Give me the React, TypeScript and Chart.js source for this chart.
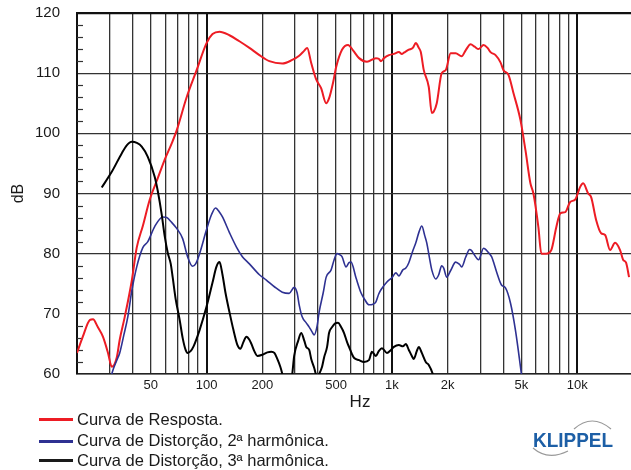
import React, { useEffect, useRef } from 'react';
import { Chart, registerables } from 'chart.js';

Chart.register(...registerables);

const FONT = '"Liberation Sans", Arial, Helvetica, sans-serif';

// ---- Axis ticks ----
const GRID_FREQS = [30, 40, 50, 60, 70, 80, 90, 100, 200, 300, 400, 500, 600, 700, 800, 900, 1000, 2000, 3000, 4000, 5000, 6000, 7000, 8000, 9000, 10000];
const LABELED_FREQS = [50, 100, 200, 500, 1000, 2000, 5000, 10000];
const FREQ_LABELS = ['50', '100', '200', '500', '1k', '2k', '5k', '10k'];
const DECADE_FREQS = [100, 1000, 10000];
const Y_MINOR = [62, 64, 66, 68, 72, 74, 76, 78, 82, 84, 86, 88, 92, 94, 96, 98, 102, 104, 106, 108, 112, 114, 116, 118];

// ---- Curva de Resposta (red) ----
const RED_FREQ = [20, 21.5, 23.5, 24.4, 25.9, 27.6, 29.4, 30.8, 32.8, 34.0, 36.2, 39.5, 42.0, 45.3, 49.4, 54.5, 59.4, 64.8, 69.0, 78.1, 88.4, 100, 107.7, 117.5, 132.9, 150.4, 170.3, 192.8, 218.2, 256.3, 290, 316, 336, 349, 367, 390, 415, 442, 458, 482, 500, 538, 580, 617, 665, 734, 820, 849, 873, 906, 964, 1025, 1091, 1131, 1160, 1234, 1297, 1346, 1397, 1432, 1486, 1581, 1641, 1681, 1746, 1857, 1951, 2075, 2208, 2379, 2500, 2659, 2794, 2937, 3123, 3282, 3406, 3624, 3854, 4001, 4256, 4527, 4939, 5255, 5589, 5801, 6171, 6403, 6812, 7245, 7708, 8099, 8615, 9165, 9750, 10372, 10764, 11452, 11885, 12644, 13452, 14137, 15040, 16000, 17025, 17670, 18340, 19030];
const RED_DB = [63.5, 66.2, 69, 69.1, 67.8, 66.2, 63.5, 61.2, 62.8, 65.7, 69.5, 75.5, 81, 84.6, 89.0, 92.5, 95.6, 98.3, 100.5, 106, 110.5, 115, 116.5, 116.9, 116.3, 115.3, 114.2, 113.0, 112.0, 111.6, 112.2, 112.9, 113.7, 114.2, 111.7, 109, 107.5, 105, 105.8, 108.5, 111, 113.9, 114.7, 113.8, 112.5, 111.9, 112.5, 112.4, 112.0, 112.5, 113, 113.2, 113.5, 113.2, 113.4, 113.9, 114.2, 115, 114.2, 113.5, 110.5, 107.7, 103.4, 103.6, 105, 110, 110.5, 113.3, 113.3, 112.8, 113.8, 114.8, 114.4, 114.0, 114.7, 114.2, 113.5, 113, 111.8, 110.5, 109.7, 106.7, 102.2, 97.2, 91.7, 90, 84.4, 80, 80, 80.6, 84.4, 86.7, 86.9, 88.6, 89, 91.1, 91.7, 90, 89.4, 85.6, 83.4, 83.1, 80.6, 81.8, 80.6, 79, 78.5, 76.1];

// ---- Curva de Distorção, 2ª harmônica (blue) ----
const BLUE_FREQ = [29.4, 30.8, 32.8, 34.0, 35.8, 37.6, 39.5, 42.0, 45.3, 48.2, 52.5, 58.0, 61.0, 64.8, 69.0, 74.3, 79.0, 84.1, 87.3, 91.7, 100, 106.4, 111.8, 117.5, 121.9, 132.9, 145.0, 156.1, 170.3, 192.8, 210.2, 232.2, 256.3, 279, 297, 308, 316, 328, 345, 358, 371, 381, 395, 405, 426, 442, 470, 488, 506, 525, 538, 566, 587, 602, 640, 681, 716, 752, 791, 820, 849, 873, 940, 1000, 1051, 1091, 1146, 1189, 1234, 1297, 1346, 1397, 1450, 1504, 1542, 1601, 1641, 1724, 1789, 1857, 1904, 1975, 2075, 2208, 2320, 2379, 2500, 2627, 2692, 2760, 2937, 3123, 3316, 3450, 3535, 3669, 3902, 4100, 4362, 4640, 4999, 5125];
const BLUE_DB = [57, 60, 62.3, 63.5, 66.5, 69.5, 73.8, 77.8, 81, 82, 84.5, 86.1, 86.0, 85.2, 84.2, 82.5, 79.5, 77.9, 78.3, 80, 84, 86.5, 87.6, 86.9, 86.1, 83.5, 81.1, 79.5, 78.3, 76.5, 75.6, 74.5, 73.6, 73.4, 74.4, 73.5, 71.5, 69.5, 68.5, 67.8, 67.0, 66.5, 68, 70.3, 73.5, 76.1, 77.3, 79, 80, 79.8, 79.5, 77.8, 78.5, 78.6, 76, 73.5, 72.3, 71.5, 71.6, 72, 73.3, 74, 75.3, 76, 76.8, 76.3, 77.3, 77.6, 78.5, 80.5, 81.8, 83.5, 84.6, 83, 81.8, 79, 77.3, 75.8, 76.5, 78, 77.6, 76.1, 77.2, 78.6, 78.2, 77.8, 79.4, 80.7, 80.5, 80, 79, 80.9, 80.2, 79.5, 78.6, 77, 74.8, 74.3, 71.8, 67.3, 60, 57.5];

// ---- Curva de Distorção, 3ª harmônica (black) ----
const BLACK_FREQ = [27.2, 30.8, 34.9, 37.1, 39.5, 42.1, 44.7, 48.2, 52.5, 54.5, 57.3, 59.4, 61.7, 64.1, 65.7, 68.1, 71.6, 74.3, 77.1, 79.0, 82.0, 85.1, 91.7, 100, 107.7, 113, 117.5, 121.9, 126.5, 132.9, 139.7, 146.8, 152.3, 158, 164.1, 170.3, 174.6, 181, 188, 200, 212.8, 223.7, 232.2, 240.8, 250, 256.3, 266, 279, 290, 297, 312, 324, 337, 345, 358, 367, 381, 395, 405, 420, 431, 447, 458, 476, 494, 512, 532, 552, 573, 587, 609, 624, 665, 707, 752, 780, 820, 849, 884, 940, 988, 1025, 1091, 1147, 1189, 1234, 1281, 1313, 1362, 1397, 1450, 1523, 1581, 1662, 1724];
const BLACK_DB = [91, 93.6, 96.7, 98.0, 98.6, 98.4, 97.8, 96.1, 92.8, 90.5, 86.5, 83, 80.2, 78.3, 76, 72.5, 69, 66, 64, 63.5, 63.8, 64.6, 67.3, 71.2, 75.2, 77.8, 78.6, 76.5, 73.5, 70.3, 67.3, 64.8, 64.2, 65.3, 66.2, 65.7, 65.0, 63.8, 63, 63.2, 63.6, 63.7, 63.5, 62.5, 61.2, 60, 57.5, 57.5, 60, 63, 65.5, 66.8, 65.5, 64.5, 64, 62.5, 61, 59.5, 60, 61.2, 62.8, 64.5, 66.8, 67.8, 68.4, 68.5, 67.8, 66.8, 65.3, 64.5, 63.3, 62.7, 62.3, 62, 62.3, 63.7, 63, 63.8, 64.3, 63.5, 64, 64.5, 64.8, 64.6, 65, 64, 63, 62.5, 63.8, 64.5, 63.5, 62, 61.5, 60, 58];

const SERIES_NAMES = ['Curva de Resposta.', 'Curva de Distorção, 2ª harmônica.', 'Curva de Distorção, 3ª harmônica.'];
const SERIES_COLORS = ['#ed1c24', '#2e3192', '#000000'];

const toPoints = (xs: number[], ys: number[]) => xs.map((x, i) => ({ x, y: ys[i] }));

const minorTicksPlugin = {
  id: 'minorTicks',
  beforeDatasetsDraw(chart: any) {
    const { ctx, chartArea, scales } = chart;
    const y = scales.y;
    ctx.save();
    ctx.strokeStyle = '#333';
    ctx.lineWidth = 1.2;
    for (const v of Y_MINOR) {
      const py = Math.round(y.getPixelForValue(v)) + 0.5;
      ctx.beginPath();
      ctx.moveTo(chartArea.left, py);
      ctx.lineTo(chartArea.left + 6, py);
      ctx.stroke();
    }
    ctx.restore();
  },
};

export default function App() {
  const ref = useRef<HTMLCanvasElement>(null);

  useEffect(() => {
    if (!ref.current) return;
    const chart = new Chart(ref.current, {
      type: 'line',
      data: {
        datasets: [
          { label: SERIES_NAMES[0], data: toPoints(RED_FREQ, RED_DB), borderColor: SERIES_COLORS[0], borderWidth: 2, order: 3 },
          { label: SERIES_NAMES[1], data: toPoints(BLUE_FREQ, BLUE_DB), borderColor: SERIES_COLORS[1], borderWidth: 1.6, order: 2 },
          { label: SERIES_NAMES[2], data: toPoints(BLACK_FREQ, BLACK_DB), borderColor: SERIES_COLORS[2], borderWidth: 2, order: 1 },
        ].map((d) => ({ ...d, pointRadius: 0, pointHoverRadius: 0, fill: false, cubicInterpolationMode: 'monotone' as const, clip: 0 })),
      },
      options: {
        responsive: false,
        animation: false,
        events: [],
        layout: { padding: { top: 13, left: 0, right: 0, bottom: 0 } },
        plugins: { legend: { display: false }, tooltip: { enabled: false }, title: { display: false } },
        scales: {
          x: {
            type: 'logarithmic',
            min: 20,
            max: 19500,
            afterBuildTicks: (s: any) => {
              s.ticks = GRID_FREQS.map((v) => ({ value: v }));
            },
            afterFit: (s: any) => {
              s.height = 96;
              s.paddingLeft = 0;
              s.paddingRight = 0;
            },
            ticks: {
              autoSkip: false,
              maxRotation: 0,
              minRotation: 0,
              padding: 4,
              color: '#1a1a1a',
              font: { family: FONT, size: 13 },
              callback: (v: any) => {
                const i = LABELED_FREQS.indexOf(Number(v));
                return i >= 0 ? FREQ_LABELS[i] : '';
              },
            },
            grid: {
              drawTicks: false,
              color: (c: any) => (DECADE_FREQS.includes(c.tick?.value) ? '#111' : '#333'),
              lineWidth: (c: any) => (DECADE_FREQS.includes(c.tick?.value) ? 2 : 1.3),
            },
            border: { display: true, color: '#222', width: 1.5 },
          },
          y: {
            type: 'linear',
            min: 60,
            max: 120,
            afterFit: (s: any) => {
              s.width = 77;
              s.paddingTop = 0;
              s.paddingBottom = 0;
            },
            ticks: {
              stepSize: 10,
              padding: 17,
              color: '#1a1a1a',
              font: { family: FONT, size: 15 },
            },
            grid: {
              drawTicks: false,
              color: (c: any) => (c.tick?.value === 120 ? '#111' : '#333'),
              lineWidth: (c: any) => (c.tick?.value === 120 ? 2.2 : 1.2),
            },
            border: { display: true, color: '#111', width: 2 },
            title: {
              display: true,
              text: 'dB',
              color: '#1a1a1a',
              font: { family: FONT, size: 16 },
              padding: { top: 9, bottom: 0 },
            },
          },
        },
      },
      plugins: [minorTicksPlugin],
    } as any);
    return () => chart.destroy();
  }, []);

  const rowTops = [410, 431, 451];
  const lineCenters = [419, 441, 460];

  return (
    <div style={{ position: 'absolute', left: 0, top: 0, width: 631, height: 470, background: '#fff', fontFamily: FONT, color: '#1a1a1a', overflow: 'hidden' }}>
      <canvas ref={ref} width={631} height={470} style={{ position: 'absolute', left: 0, top: 0, display: 'block' }} />
      <div style={{ position: 'absolute', left: 330, top: 392, width: 60, textAlign: 'center', fontSize: 17, lineHeight: '19px' }}>Hz</div>
      {SERIES_NAMES.map((name, i) => (
        <React.Fragment key={name}>
          <div style={{ position: 'absolute', left: 39, top: lineCenters[i] - 1.5, width: 34, height: 3, background: SERIES_COLORS[i] === '#000000' ? '#1a1a1a' : SERIES_COLORS[i] }} />
          <div style={{ position: 'absolute', left: 77, top: rowTops[i], fontSize: 16.5, lineHeight: '19px', whiteSpace: 'nowrap' }}>{name}</div>
        </React.Fragment>
      ))}
      <svg style={{ position: 'absolute', left: 500, top: 400 }} width={131} height={70} viewBox="0 0 131 70">
        <path d="M 74 29 Q 92 13 111 29" fill="none" stroke="#9a9a9a" strokeWidth={1.2} />
        <path d="M 33 48 Q 48 61 68 51" fill="none" stroke="#9a9a9a" strokeWidth={1.2} />
        <text x={33} y={47} fontFamily={FONT} fontWeight="bold" fontSize={20} fill="#1d5fa6" textLength={80} lengthAdjust="spacingAndGlyphs">KLIPPEL</text>
      </svg>
    </div>
  );
}
